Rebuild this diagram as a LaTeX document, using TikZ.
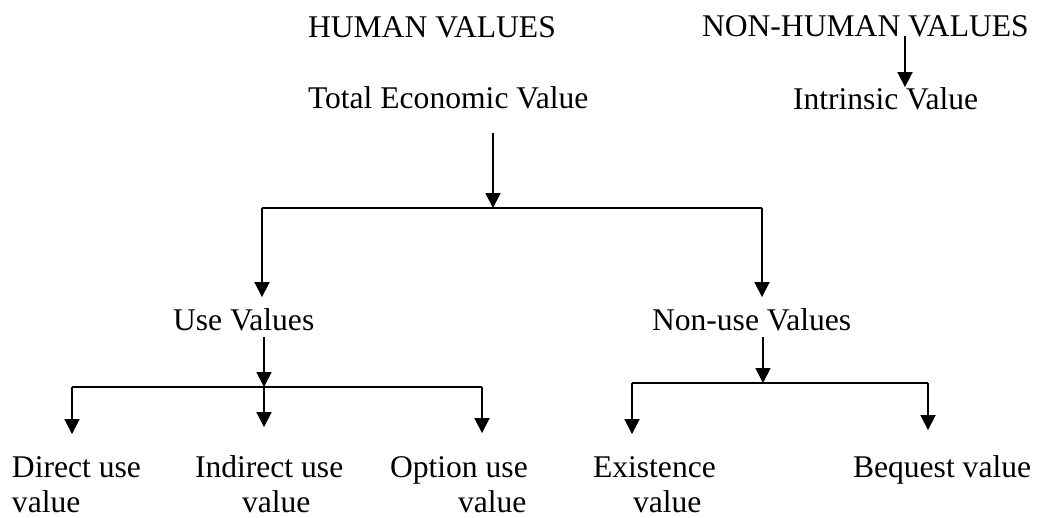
\documentclass[tikz,border=0pt]{standalone}
\usepackage{fontspec}
\setmainfont{Liberation Serif}
\usetikzlibrary{arrows.meta}
\begin{document}
\begin{tikzpicture}[x=1pt,y=-1pt,
  lbl/.style={inner sep=0pt, outer sep=0pt, anchor=base west, align=left, font=\fontsize{31.6}{35}\selectfont},
  conn/.style={line width=1.8pt},
  arr/.style={conn,-{Triangle[length=15pt,width=15pt]}}]
\useasboundingbox (0,0) rectangle (1039,517);
% texts (multi-line nodes are placed by the baseline of their last line)
\node[lbl] (hv)  at (308,37)  {HUMAN VALUES};
\node[lbl] (nhv) at (702,36)  {NON-HUMAN VALUES};
\node[lbl] (tev) at (308,108) {Total Economic Value};
\node[lbl] (iv)  at (793,109) {Intrinsic Value};
\node[lbl] (uv)  at (173,330) {Use Values};
\node[lbl] (nuv) at (652,330) {Non-use Values};
\node[lbl] (du)  at (12,512)  {Direct use\\value};
\node[lbl] (iu)  at (195,512) {Indirect use\\\hspace*{47pt}value};
\node[lbl] (ou)  at (390,512) {Option use\\\hspace*{68pt}value};
\node[lbl] (ex)  at (593,512) {Existence\\\hspace*{40pt}value};
\node[lbl] (bq)  at (853,477) {Bequest value};
% junction coordinates
\coordinate (b1L) at (262,208);
\coordinate (b1M) at (493,208);
\coordinate (b1R) at (762,208);
\coordinate (b2L) at (72,387);
\coordinate (b2M) at (264,387);
\coordinate (b2R) at (482,387);
\coordinate (b3L) at (632,383);
\coordinate (b3M) at (763,383);
\coordinate (b3R) at (928,383);
% connectors
\draw[arr] (nhv.south -| 905,0) -- (iv.north -| 905,0);
\draw[arr, shorten <=25pt] (tev.south -| b1M) -- (b1M);
\draw[conn] (b1L) -- (b1R);
\draw[arr, shorten >=11pt] (b1L) -- (b1L |- uv.north);
\draw[arr, shorten >=11pt] (b1R) -- (b1R |- nuv.north);
\draw[arr, shorten <=7pt] (uv.south -| b2M) -- (b2M);
\draw[conn] (b2L) -- (b2R);
\draw[arr, shorten >=22pt] (b2L) -- (b2L |- du.north);
\draw[arr, shorten >=28pt] (b2M) -- (b2M |- iu.north);
\draw[arr, shorten >=23pt] (b2R) -- (b2R |- ou.north);
\draw[arr, shorten <=7pt] (nuv.south -| b3M) -- (b3M);
\draw[conn] (b3L) -- (b3R);
\draw[arr, shorten >=22pt] (b3L) -- (b3L |- ex.north);
\draw[arr, shorten >=25pt] (b3R) -- (b3R |- bq.north);
\end{tikzpicture}
\end{document}
